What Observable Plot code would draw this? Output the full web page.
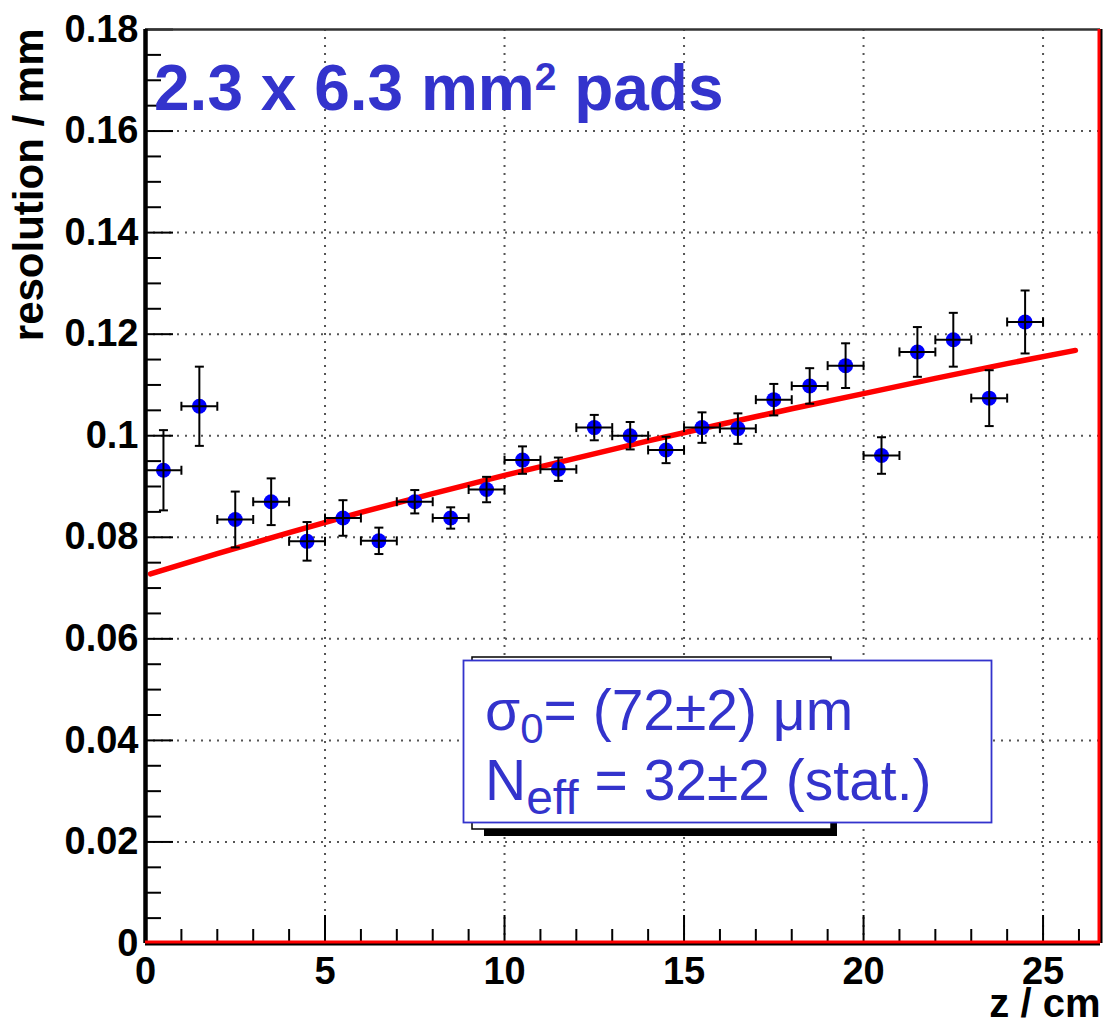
<!DOCTYPE html>
<html><head><meta charset="utf-8">
<script src="https://cdn.jsdelivr.net/npm/d3@7"></script>
<script src="https://cdn.jsdelivr.net/npm/@observablehq/plot@0.6"></script>
<style>
html,body{margin:0;padding:0;background:#fff;}
#chart{position:relative;width:1105px;height:1021px;}
</style></head><body><div id="chart"></div>
<script>
// ---- data ----
const zCenters = [0.5,1.5,2.5,3.5,4.5,5.5,6.5,7.5,8.5,9.5,10.5,11.5,12.5,13.5,14.5,15.5,16.5,17.5,18.5,19.5,20.5,21.5,22.5,23.5,24.5];
const zHalfWidth = [0.5,0.5,0.5,0.5,0.5,0.5,0.5,0.5,0.5,0.5,0.5,0.5,0.5,0.5,0.5,0.5,0.5,0.5,0.5,0.5,0.5,0.5,0.5,0.5,0.5];
const resolution = [0.0932,0.1058,0.0835,0.0870,0.0792,0.0838,0.0793,0.0870,0.0838,0.0894,0.0952,0.0934,0.1016,0.1000,0.0972,0.1016,0.1014,0.1071,0.1098,0.1138,0.0961,0.1165,0.1189,0.1074,0.1224];
const resolutionErr = [0.0079,0.0078,0.0055,0.0046,0.0038,0.0035,0.0026,0.0023,0.0021,0.0025,0.0027,0.0023,0.0025,0.0027,0.0026,0.0030,0.0030,0.0031,0.0035,0.0044,0.0036,0.0049,0.0053,0.0055,0.0062];
// fit curve at several z
const fitZ = [0.14,2,4,6,8,10,12,14,16,18,20,22,24,25.9];
const fitResolution = [0.0728,0.0768,0.0809,0.0849,0.0886,0.0922,0.0956,0.0990,0.1022,0.1053,0.1083,0.1113,0.1142,0.1168];
// axes
const xDomain = [0, 26.6];
const yDomain = [0, 0.18];
const xMajorTicks = [0,5,10,15,20,25];
const xTickLabels = ["0","5","10","15","20","25"];
const xMinorTicks = [1,2,3,4,6,7,8,9,11,12,13,14,16,17,18,19,21,22,23,24,26];
const xGrid = [5,10,15,20,25];
const yMajorTicks = [0,0.02,0.04,0.06,0.08,0.10,0.12,0.14,0.16,0.18];
const yTickLabels = ["0","0.02","0.04","0.06","0.08","0.1","0.12","0.14","0.16","0.18"];
const yMinorTicks = [0.005,0.01,0.015,0.025,0.03,0.035,0.045,0.05,0.055,0.065,0.07,0.075,0.085,0.09,0.095,0.105,0.11,0.115,0.125,0.13,0.135,0.145,0.15,0.155,0.165,0.17,0.175];
const yGrid = [0.02,0.04,0.06,0.08,0.10,0.12,0.14,0.16];
const xTitle = "z / cm";
const yTitle = "resolution / mm";

// ---- build ----
const points = zCenters.map((z, i) => ({z, zerr: zHalfWidth[i], res: resolution[i], err: resolutionErr[i]}));
const fit = fitZ.map((z, i) => ({z, res: fitResolution[i]}));

const W = 1105, H = 1021, mL = 145, mR = 5, mT = 29, mB = 78;
const plotW = W - mL - mR, plotH = H - mT - mB;
const FONT = "'Liberation Sans', Arial, Helvetica, sans-serif";
const BLUE = "#3333cc";

const hCap = {draw(ctx) { ctx.moveTo(-4.5, 0); ctx.lineTo(4.5, 0); }};
const vCap = {draw(ctx) { ctx.moveTo(0, -4.5); ctx.lineTo(0, 4.5); }};
const dotted = {stroke: "#555", strokeWidth: 2, strokeDasharray: "2,6"};

const chart = Plot.plot({
  width: W, height: H,
  marginLeft: mL, marginRight: mR, marginTop: mT, marginBottom: mB,
  style: {fontFamily: FONT, background: "white"},
  x: {domain: xDomain, axis: null},
  y: {domain: yDomain, axis: null},
  marks: [
    Plot.ruleY(yGrid, {y: d => d, ...dotted}),
    Plot.ruleX(xGrid, {x: d => d, ...dotted}),
    Plot.line(fit, {x: "z", y: "res", stroke: "#ff0000", strokeWidth: 5.5}),
    Plot.dot(points, {x: "z", y: "res", r: 7.5, fill: "#0000ff"}),
    Plot.ruleX(points, {x: "z", y1: d => d.res - d.err, y2: d => d.res + d.err, stroke: "black", strokeWidth: 2}),
    Plot.ruleY(points, {y: "res", x1: d => d.z - d.zerr, x2: d => d.z + d.zerr, stroke: "black", strokeWidth: 2}),
    Plot.dot(points, {x: "z", y: d => d.res + d.err, symbol: hCap, stroke: "black", strokeWidth: 2, r: 4}),
    Plot.dot(points, {x: "z", y: d => d.res - d.err, symbol: hCap, stroke: "black", strokeWidth: 2, r: 4}),
    Plot.dot(points, {x: d => d.z - d.zerr, y: "res", symbol: vCap, stroke: "black", strokeWidth: 2, r: 4}),
    Plot.dot(points, {x: d => d.z + d.zerr, y: "res", symbol: vCap, stroke: "black", strokeWidth: 2, r: 4}),
    // ticks (inside the frame)
    Plot.tickX(xMajorTicks, {x: d => d, insetTop: plotH - 28, stroke: "black", strokeWidth: 2}),
    Plot.tickX(xMinorTicks, {x: d => d, insetTop: plotH - 14, stroke: "black", strokeWidth: 2}),
    Plot.tickY(yMajorTicks, {y: d => d, insetRight: plotW - 28, stroke: "black", strokeWidth: 2}),
    Plot.tickY(yMinorTicks, {y: d => d, insetRight: plotW - 16, stroke: "black", strokeWidth: 2}),
    // frame
    Plot.ruleY([yDomain[1]], {y: d => d, stroke: "#333", strokeWidth: 2.5}),
    Plot.ruleX([xDomain[0]], {x: d => d, stroke: "black", strokeWidth: 4.5}),
    Plot.ruleY([yDomain[0]], {y: d => d, stroke: "black", strokeWidth: 4}),
    Plot.ruleY([yDomain[0]], {y: d => d, stroke: "#ff0000", strokeWidth: 3, dy: -1.5}),
    Plot.ruleX([xDomain[1]], {x: d => d, stroke: "black", strokeWidth: 4}),
    Plot.ruleX([xDomain[1]], {x: d => d, stroke: "#ff0000", strokeWidth: 3, dx: -1.5}),
    // tick labels
    Plot.text(yMajorTicks, {y: d => d, text: (d, i) => yTickLabels[i], frameAnchor: "left", textAnchor: "end", lineAnchor: "middle", dx: -7, fontSize: 38, fontWeight: "bold", fill: "black"}),
    Plot.text(xMajorTicks, {x: d => d, text: (d, i) => xTickLabels[i], frameAnchor: "bottom", lineAnchor: "top", dy: 14, fontSize: 38, fontWeight: "bold", fill: "black"}),
    // axis titles
    Plot.text([xTitle], {text: d => d, frameAnchor: "bottom-right", textAnchor: "end", lineAnchor: "bottom", dy: 73, fontSize: 40, fontWeight: "bold", fill: "black"}),
    Plot.text([yTitle], {text: d => d, frameAnchor: "top-left", textAnchor: "end", lineAnchor: "bottom", rotate: -90, dx: 42 - mL, dy: -1, fontSize: 42, fontWeight: "bold", fill: "black"})
  ]
});
document.getElementById("chart").appendChild(chart);

// ---- annotations (title and fit-result box) ----
const svg = d3.select(chart);
const ann = svg.append("g").attr("font-family", FONT).attr("text-anchor", "start");
const title = ann.append("text").attr("x", 154).attr("y", 110).attr("fill", BLUE)
  .attr("font-size", 64).attr("font-weight", "bold");
title.append("tspan").text("2.3 x 6.3 mm");
title.append("tspan").attr("font-size", 39).attr("dy", -20).text("2");
title.append("tspan").attr("dy", 20).text(" pads");

// stat box with shadow
ann.append("rect").attr("x", 484).attr("y", 664).attr("width", 353).attr("height", 172).attr("fill", "black");
ann.append("rect").attr("x", 472).attr("y", 657).attr("width", 359).attr("height", 172).attr("fill", "white").attr("stroke", "black").attr("stroke-width", 1.5);
ann.append("rect").attr("x", 463.5).attr("y", 660.5).attr("width", 528).attr("height", 162).attr("fill", "white").attr("stroke", BLUE).attr("stroke-width", 1.8);
const l1 = ann.append("text").attr("x", 485).attr("y", 730).attr("fill", BLUE).attr("font-size", 57);
l1.append("tspan").text("σ");
l1.append("tspan").attr("font-size", 42).attr("dy", 13).text("0");
l1.append("tspan").attr("dy", -13).text("= (72±2) μm");
const l2 = ann.append("text").attr("x", 485).attr("y", 800).attr("fill", BLUE).attr("font-size", 57);
l2.append("tspan").text("N");
l2.append("tspan").attr("font-size", 48).attr("dy", 14).text("eff");
l2.append("tspan").attr("dy", -14).text(" = 32±2 (stat.)");
</script>
</body></html>
